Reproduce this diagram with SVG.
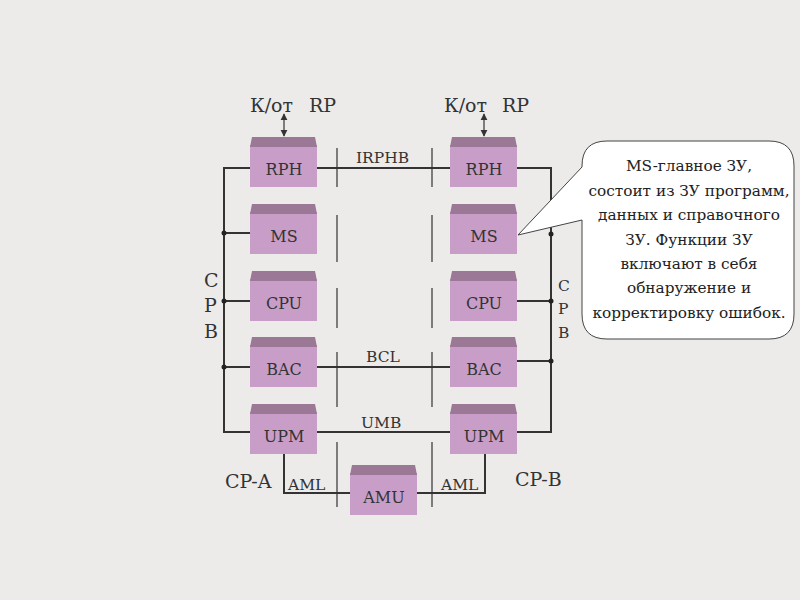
<svg xmlns="http://www.w3.org/2000/svg" width="800" height="600" viewBox="0 0 800 600">
<defs>
<style>
text{font-family:'DejaVu Serif','Liberation Serif',serif}
.body{fill:#c89ec8}
.top{fill:#9a7896}
.bl{font-size:16px;fill:#333;text-anchor:middle}
.lbl{font-size:15.5px;fill:#333}
.big{font-size:19px;fill:#333}
.call{font-size:15.3px;fill:#222;text-anchor:middle}
.w{stroke:#333;stroke-width:2;fill:none}
.d{stroke:#333;stroke-width:1.2;fill:none}
.dot{fill:#222}
</style>
<marker id="ah" viewBox="0 0 10 10" refX="9" refY="5" markerWidth="6" markerHeight="6" orient="auto-start-reverse">
<path d="M0,0 L10,5 L0,10 z" fill="#333"/>
</marker>
<g id="box">
<rect x="0" y="8" width="67" height="42" class="body"/>
<polygon points="2,0 65,0 67,10 0,10" class="top"/>
</g>
</defs>
<rect width="800" height="600" fill="#ecebea"/>

<g id="connectors">
<polyline class="w" points="250,168 224,168 224,432 250,432"/>
<line class="w" x1="224" y1="233" x2="250" y2="233"/>
<line class="w" x1="224" y1="301" x2="250" y2="301"/>
<line class="w" x1="224" y1="367" x2="250" y2="367"/>
<circle class="dot" cx="224" cy="233" r="2.5"/>
<circle class="dot" cx="224" cy="301" r="2.5"/>
<circle class="dot" cx="224" cy="367" r="2.5"/>
<polyline class="w" points="516,168 551,168 551,432 516,432"/>
<line class="w" x1="516" y1="301" x2="551" y2="301"/>
<line class="w" x1="516" y1="361" x2="551" y2="361"/>
<circle class="dot" cx="551" cy="234" r="2.5"/>
<circle class="dot" cx="551" cy="301" r="2.5"/>
<circle class="dot" cx="551" cy="361" r="2.5"/>
<line class="w" x1="317" y1="168" x2="450" y2="168"/>
<line class="w" x1="317" y1="367" x2="450" y2="367"/>
<line class="w" x1="317" y1="432" x2="450" y2="432"/>
<polyline class="w" points="284,453 284,493 350,493"/>
<polyline class="w" points="417,493 485,493 485,453"/>
<path class="d" d="M337,148V187M337,215V262M337,288V328M337,352V407M337,442V507"/>
<path class="d" d="M432,148V187M432,215V262M432,288V328M432,352V407M432,442V507"/>
<line class="d" x1="284" y1="114" x2="284" y2="136" marker-start="url(#ah)" marker-end="url(#ah)"/>
<line class="d" x1="484" y1="114" x2="484" y2="136" marker-start="url(#ah)" marker-end="url(#ah)"/>
</g>

<g id="rph-a"><use href="#box" x="250" y="137"/><text class="bl" x="284" y="175">RPH</text></g>
<g id="ms-a"><use href="#box" x="250" y="204"/><text class="bl" x="284" y="242">MS</text></g>
<g id="cpu-a"><use href="#box" x="250" y="271"/><text class="bl" x="284" y="309">CPU</text></g>
<g id="bac-a"><use href="#box" x="250" y="337"/><text class="bl" x="284" y="375">BAC</text></g>
<g id="upm-a"><use href="#box" x="250" y="404"/><text class="bl" x="284" y="442">UPM</text></g>
<g id="rph-b"><use href="#box" x="450" y="137"/><text class="bl" x="484" y="175">RPH</text></g>
<g id="ms-b"><use href="#box" x="450" y="204"/><text class="bl" x="484" y="242">MS</text></g>
<g id="cpu-b"><use href="#box" x="450" y="271"/><text class="bl" x="484" y="309">CPU</text></g>
<g id="bac-b"><use href="#box" x="450" y="337"/><text class="bl" x="484" y="375">BAC</text></g>
<g id="upm-b"><use href="#box" x="450" y="404"/><text class="bl" x="484" y="442">UPM</text></g>
<g id="amu"><use href="#box" x="350" y="465"/><text class="bl" x="384" y="503">AMU</text></g>

<g id="labels">
<text class="big" x="250" y="112">К/от</text><text class="big" x="309" y="112">RP</text>
<text class="big" x="444" y="112">К/от</text><text class="big" x="502" y="112">RP</text>
<text class="lbl" x="356" y="163">IRPHB</text>
<text class="lbl" x="366" y="362">BCL</text>
<text class="lbl" x="361" y="428">UMB</text>
<text class="lbl" x="288" y="490">AML</text>
<text class="lbl" x="441" y="490">AML</text>
<text class="big" x="225" y="488">CP-A</text>
<text class="big" x="515" y="486">CP-B</text>
<text class="big" x="204" y="287">C</text>
<text class="big" x="204" y="312">P</text>
<text class="big" x="204" y="338">B</text>
<text class="lbl" x="558" y="291">C</text>
<text class="lbl" x="558" y="314">P</text>
<text class="lbl" x="558" y="338">B</text>
</g>

<g id="callout">
<path d="M582,220 V314 Q582,339 607,339 H769 Q794,339 794,314 V166 Q794,141 769,141 H607 Q582,141 582,166 V167 L518,235 Z" fill="#ffffff" stroke="#444" stroke-width="1"/>
<text class="call" x="689" y="171">MS-главное ЗУ,</text>
<text class="call" x="689" y="196">состоит из ЗУ программ,</text>
<text class="call" x="689" y="220">данных и справочного</text>
<text class="call" x="689" y="245">ЗУ. Функции ЗУ</text>
<text class="call" x="689" y="269">включают в себя</text>
<text class="call" x="689" y="293">обнаружение и</text>
<text class="call" x="689" y="318">корректировку ошибок.</text>
</g>
</svg>
